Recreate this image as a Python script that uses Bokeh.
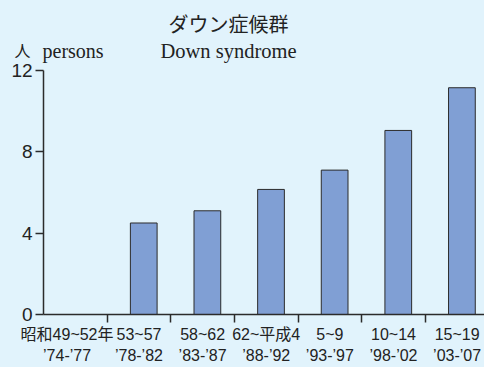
import numpy as np
from bokeh.plotting import figure
from bokeh.models import ColumnDataSource, Range1d, FixedTicker, Label
from bokeh.embed import file_html
from bokeh.resources import INLINE

# ---- data ----
periods_ja = ["昭和49~52年", "53~57", "58~62", "62~平成4", "5~9", "10~14", "15~19"]
periods_en = ["’74-’77", "’78-’82", "’83-’87", "’88-’92", "’93-’97", "’98-’02", "’03-’07"]
persons = [np.nan, 4.5, 5.1, 6.15, 7.1, 9.05, 11.15]
y_ticks = [0, 4, 8, 12]
title_ja = "ダウン症候群"
title_en = "Down syndrome"
unit_ja = "人"
unit_en = "persons"

BG = "#e1f3fc"
BAR = "#809fd4"
INK = "#2b2b2b"
SANS = "'Liberation Sans', 'Noto Sans CJK JP'"
CJK = "'Noto Sans CJK JP'"
SERIF = "'Liberation Serif', 'Noto Sans CJK JP'"

n = len(periods_ja)
centers = [i + 0.5 for i in range(n)]
bar_offset = 0.075
label_shift = [-0.13] + [0.0] * (n - 1)   # first (long) label sits a little left
label_pos = [c + s for c, s in zip(centers, label_shift)]
src = ColumnDataSource(dict(x=[c + bar_offset for c in centers], top=persons))

x_end = 6.93
y_top = 12
p = figure(width=484, height=367, output_backend="svg", toolbar_location=None,
           x_range=Range1d(-0.676, x_end), y_range=Range1d(-2.606, 15.44),
           min_border_left=0, min_border_right=0, min_border_top=0, min_border_bottom=0)
p.background_fill_color = BG
p.border_fill_color = BG
p.outline_line_color = None
p.xgrid.visible = False
p.ygrid.visible = False

p.vbar(x="x", top="top", bottom=0, width=0.42, source=src,
       fill_color=BAR, line_color=INK, line_width=1)

# x axis: labels centered in each slot, tick marks at slot boundaries
xa = p.xaxis[0]
xa.fixed_location = 0
xa.bounds = (0, x_end)
xa.ticker = FixedTicker(ticks=label_pos, minor_ticks=[i for i in range(1, n)])
xa.major_label_overrides = {c: f"{ja}\n{en}" for c, ja, en in zip(label_pos, periods_ja, periods_en)}
xa.major_tick_in = 0
xa.major_tick_out = 0
xa.minor_tick_in = 0
xa.minor_tick_out = 8
xa.minor_tick_line_color = INK
xa.minor_tick_line_width = 1.5
xa.axis_line_color = INK
xa.axis_line_width = 1.5
xa.major_label_text_font = SANS
xa.major_label_text_font_size = "16px"
xa.major_label_text_line_height = 1.25
xa.major_label_text_color = "#222"
xa.major_label_standoff = 3

ya = p.yaxis[0]
ya.fixed_location = 0
ya.bounds = (0, y_top)
ya.ticker = FixedTicker(ticks=y_ticks, minor_ticks=[])
ya.major_tick_in = 0
ya.major_tick_out = 8
ya.major_tick_line_color = INK
ya.major_tick_line_width = 1.5
ya.axis_line_color = INK
ya.axis_line_width = 1.5
ya.major_label_text_font = "'Liberation Sans'"
ya.major_label_text_font_size = "19px"
ya.major_label_text_color = "#222"
ya.major_label_standoff = 3

p.add_layout(Label(x=228, y=344, x_units="screen", y_units="screen", text=title_ja,
                   text_align="center", text_baseline="alphabetic",
                   text_font=CJK, text_font_size="20px", text_color="#222"))
p.add_layout(Label(x=228, y=316.5, x_units="screen", y_units="screen", text=title_en,
                   text_align="center", text_baseline="alphabetic",
                   text_font=SERIF, text_font_size="20.5px", text_color="#222"))
p.add_layout(Label(x=14, y=317.5, x_units="screen", y_units="screen", text=unit_ja,
                   text_align="left", text_baseline="alphabetic",
                   text_font=CJK, text_font_size="16px", text_color="#222"))
p.add_layout(Label(x=42, y=316.5, x_units="screen", y_units="screen", text=unit_en,
                   text_align="left", text_baseline="alphabetic",
                   text_font=SERIF, text_font_size="20px", text_color="#222"))

html = file_html(p, INLINE)
html = html.replace("<head>", "<head><style>html,body{background:%s;overflow:hidden;margin:0;}</style>" % BG, 1)
open("out.html", "w").write(html)
